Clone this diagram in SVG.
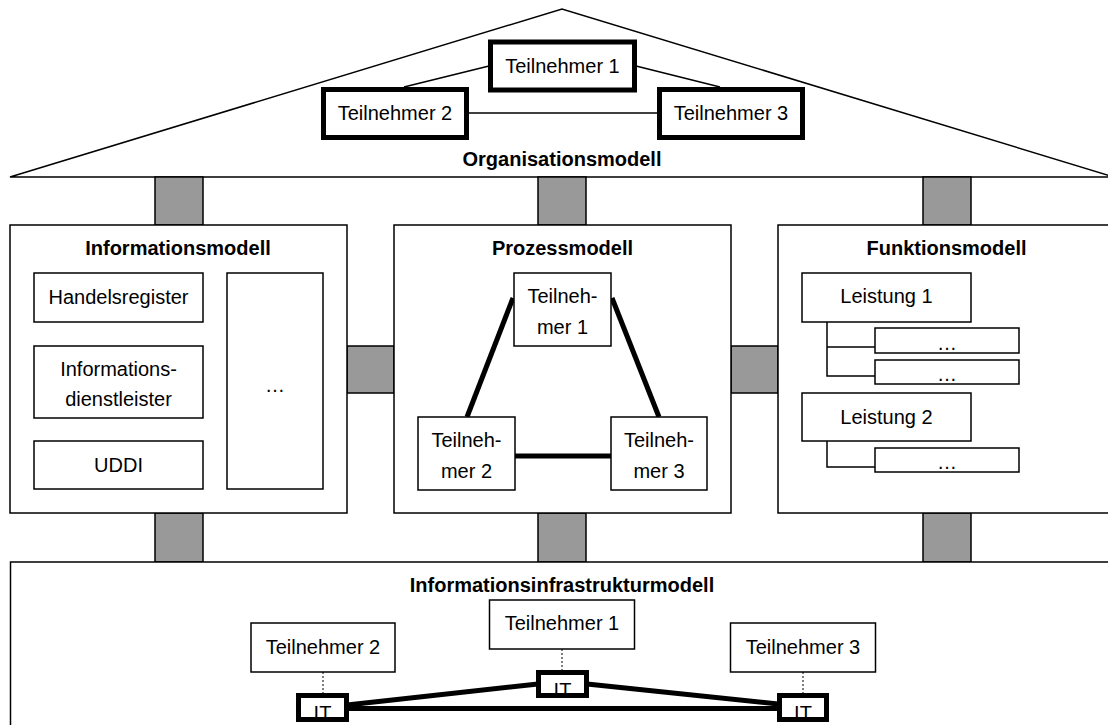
<svg xmlns="http://www.w3.org/2000/svg" width="1108" height="725" viewBox="0 0 1108 725">
<style>
.t{font-family:"Liberation Sans",Arial,sans-serif;font-size:20px;fill:#000;text-anchor:middle}
.b{font-weight:bold}
.box{fill:#fff;stroke:#000;stroke-width:1.5}
.thick{fill:#fff;stroke:#000;stroke-width:5}
.fill{fill:#fff;stroke:none}
.frame{fill:none;stroke:#000;stroke-width:5}
.pillar{fill:#999;stroke:#000;stroke-width:1.5}
.thin{stroke:#000;stroke-width:1.5;fill:none}
.heavy{stroke:#000;stroke-width:5;fill:none}
.dot{stroke:#000;stroke-width:1;stroke-dasharray:2,2;fill:none}
</style>
<rect width="1108" height="725" fill="#fff"/>
<g id="organisationsmodell">
<polygon class="box" points="10,177 562,9 1114,177"/>
<text class="t b" x="562" y="166">Organisationsmodell</text>
</g>
<g id="pillars">
<rect class="pillar" x="155" y="177" width="48" height="48"/>
<rect class="pillar" x="538" y="177" width="48" height="48"/>
<rect class="pillar" x="923" y="177" width="48" height="48"/>
<rect class="pillar" x="347" y="346" width="47" height="47"/>
<rect class="pillar" x="731" y="346" width="47" height="47"/>
<rect class="pillar" x="155" y="513" width="48" height="49"/>
<rect class="pillar" x="538" y="513" width="48" height="49"/>
<rect class="pillar" x="923" y="513" width="48" height="49"/>
</g>
<g id="connectors">
<line class="thin" x1="468" y1="113" x2="657" y2="113"/>
<line class="thin" x1="489" y1="66" x2="404" y2="87"/>
<line class="thin" x1="636" y1="66" x2="720" y2="87"/>
</g>
<g id="org-t1"><rect class="thick" x="490.5" y="42" width="144" height="48"/><text class="t" x="562.5" y="73">Teilnehmer 1</text></g>
<g id="org-t2"><rect class="thick" x="323.5" y="89.5" width="143" height="48"/><text class="t" x="395" y="120">Teilnehmer 2</text></g>
<g id="org-t3"><rect class="thick" x="659.5" y="89.5" width="143" height="48"/><text class="t" x="731" y="120">Teilnehmer 3</text></g>

<g id="informationsmodell">
<rect class="box" x="10" y="225" width="337" height="288"/>
<text class="t b" x="178" y="255">Informationsmodell</text>
</g>
<g id="handelsregister"><rect class="box" x="34" y="273" width="169" height="49"/><text class="t" x="118.5" y="304">Handelsregister</text></g>
<g id="informationsdienstleister"><rect class="box" x="34" y="346" width="169" height="72"/><text class="t" x="118.5" y="376">Informations-</text><text class="t" x="118.5" y="406">dienstleister</text></g>
<g id="uddi"><rect class="box" x="34" y="441" width="169" height="48"/><text class="t" x="118.5" y="472">UDDI</text></g>
<g id="info-more"><rect class="box" x="227" y="273" width="96" height="216"/><text class="t" x="275" y="392">…</text></g>

<g id="prozessmodell">
<rect class="box" x="394" y="225" width="337" height="288"/>
<text class="t b" x="562.5" y="255">Prozessmodell</text>
</g>
<g id="proz-connectors">
<line class="heavy" x1="513" y1="298" x2="467" y2="417"/>
<line class="heavy" x1="612" y1="298" x2="659" y2="417"/>
<line class="heavy" x1="515" y1="456" x2="611" y2="456"/>
</g>
<g id="proz-t1"><rect class="box" x="514" y="273" width="97" height="73"/><text class="t" x="562.5" y="303">Teilneh-</text><text class="t" x="562.5" y="334">mer 1</text></g>
<g id="proz-t2"><rect class="box" x="418" y="417" width="97" height="73"/><text class="t" x="466.5" y="447">Teilneh-</text><text class="t" x="466.5" y="478">mer 2</text></g>
<g id="proz-t3"><rect class="box" x="611" y="417" width="96" height="73"/><text class="t" x="659" y="447">Teilneh-</text><text class="t" x="659" y="478">mer 3</text></g>

<g id="funktionsmodell">
<rect class="box" x="778" y="225" width="337" height="288"/>
<text class="t b" x="946.5" y="255">Funktionsmodell</text>
</g>
<g id="funk-connectors">
<polyline class="thin" points="827,322 827,376 875,376"/>
<line class="thin" x1="827" y1="347" x2="875" y2="347"/>
<polyline class="thin" points="827,441 827,467 875,467"/>
</g>
<g id="leistung1"><rect class="box" x="802" y="273" width="169" height="49"/><text class="t" x="886.5" y="303">Leistung 1</text></g>
<g id="leistung1-a"><rect class="box" x="875" y="328" width="144" height="25"/><text class="t" x="947" y="350">…</text></g>
<g id="leistung1-b"><rect class="box" x="875" y="360" width="144" height="24"/><text class="t" x="947" y="381">…</text></g>
<g id="leistung2"><rect class="box" x="802" y="393" width="169" height="48"/><text class="t" x="886.5" y="424">Leistung 2</text></g>
<g id="leistung2-a"><rect class="box" x="875" y="448" width="144" height="24"/><text class="t" x="947" y="469">…</text></g>

<g id="informationsinfrastrukturmodell">
<rect class="box" x="10.5" y="562" width="1110" height="180"/>
<text class="t b" x="562" y="592">Informationsinfrastrukturmodell</text>
</g>
<g id="infra-connectors">
<line class="dot" x1="323" y1="672" x2="323" y2="694"/>
<line class="dot" x1="562" y1="649" x2="562" y2="671"/>
<line class="dot" x1="803" y1="672" x2="803" y2="694"/>
<line class="heavy" x1="347" y1="705" x2="538" y2="684"/>
<line class="heavy" x1="587" y1="684" x2="778" y2="704"/>
<line class="heavy" x1="347" y1="708.5" x2="778" y2="708.5"/>
</g>
<g id="infra-t1"><rect class="box" x="489.5" y="600" width="145" height="49"/><text class="t" x="562" y="630">Teilnehmer 1</text></g>
<g id="infra-t2"><rect class="box" x="251" y="623" width="144" height="49"/><text class="t" x="323" y="654">Teilnehmer 2</text></g>
<g id="infra-t3"><rect class="box" x="730.5" y="623" width="145" height="49"/><text class="t" x="803" y="654">Teilnehmer 3</text></g>
<g id="it2"><rect class="fill" x="298.5" y="695.5" width="48" height="24"/><text class="t" x="322.5" y="720">IT</text><rect class="frame" x="298.5" y="695.5" width="48" height="24"/></g>
<g id="it1"><rect class="fill" x="538.5" y="672.5" width="48" height="23"/><text class="t" x="562.5" y="697">IT</text><rect class="frame" x="538.5" y="672.5" width="48" height="23"/></g>
<g id="it3"><rect class="fill" x="779.5" y="695.5" width="47" height="24"/><text class="t" x="803" y="720">IT</text><rect class="frame" x="779.5" y="695.5" width="47" height="24"/></g>
</svg>
